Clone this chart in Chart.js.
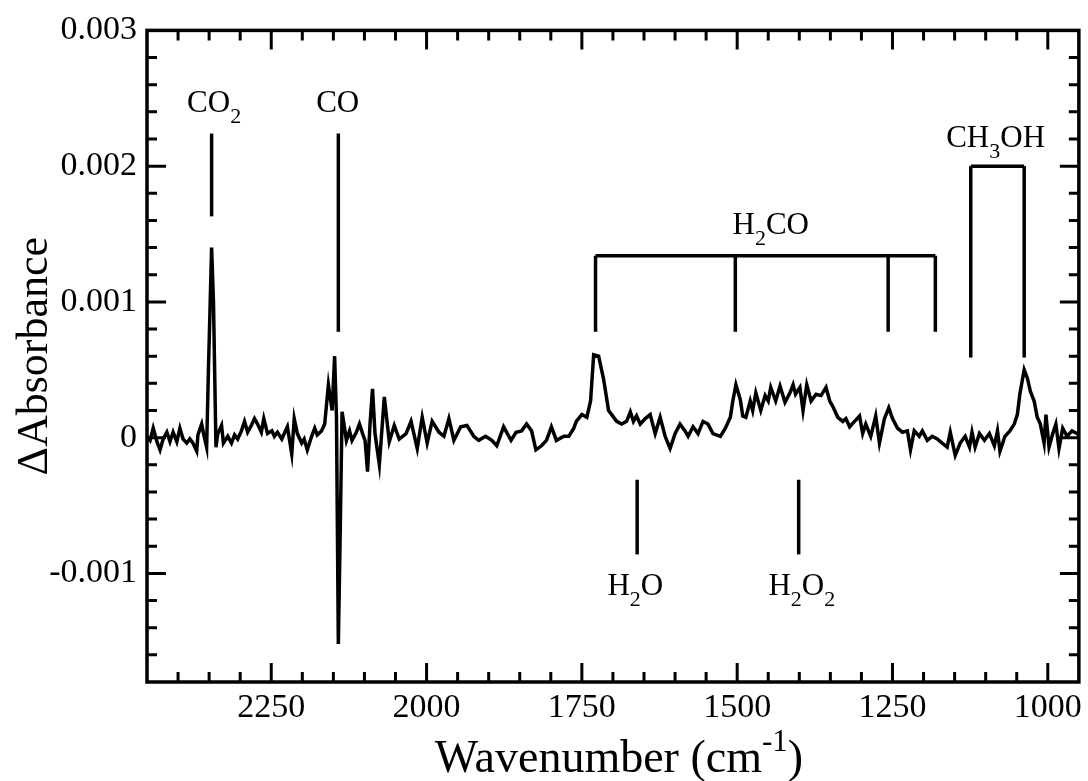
<!DOCTYPE html>
<html>
<head>
<meta charset="utf-8">
<script src="https://cdn.jsdelivr.net/npm/chart.js@4.4.0/dist/chart.umd.min.js"></script>
<style>
  body { margin: 0; background: #fff; }
  canvas { display: block; }
</style>
</head>
<body>
<canvas id="js--chart" width="1088" height="781"></canvas>
<script>
// spectrum (cm-1, delta absorbance)
const wavenumber = [
  2450, 2445, 2440, 2434, 2429, 2424, 2418, 2413, 2408, 2402, 2397, 2392, 2386, 2381, 2376, 2370,
  2368, 2362, 2359, 2354, 2351, 2346, 2343, 2339, 2336, 2330, 2327, 2320, 2314, 2309, 2304, 2298,
  2293, 2288, 2282, 2277, 2272, 2266, 2262, 2256, 2249, 2245, 2240, 2233, 2229, 2224, 2217, 2213,
  2208, 2201, 2197, 2192, 2185, 2180, 2176, 2169, 2164, 2158, 2152, 2148, 2145, 2142, 2139, 2136,
  2129, 2124, 2120, 2113, 2108, 2103, 2099, 2095, 2091, 2087, 2083, 2076, 2068, 2060, 2052, 2044,
  2033, 2025, 2015, 2007, 1999, 1991, 1980, 1972, 1964, 1956, 1945, 1935, 1924, 1916, 1905, 1895,
  1887, 1876, 1864, 1856, 1847, 1839, 1831, 1824, 1815, 1807, 1799, 1791, 1779, 1771, 1763, 1759,
  1750, 1742, 1736, 1731, 1723, 1715, 1707, 1702, 1694, 1686, 1678, 1672, 1667, 1662, 1656, 1648,
  1640, 1632, 1624, 1616, 1608, 1600, 1592, 1584, 1579, 1571, 1563, 1555, 1547, 1539, 1527, 1519,
  1511, 1507, 1502, 1495, 1491, 1486, 1479, 1475, 1470, 1462, 1455, 1450, 1446, 1438, 1431, 1423,
  1415, 1410, 1406, 1399, 1394, 1388, 1381, 1373, 1365, 1357, 1351, 1346, 1338, 1330, 1325, 1319,
  1311, 1303, 1298, 1293, 1285, 1277, 1271, 1263, 1256, 1250, 1242, 1234, 1226, 1221, 1215, 1207,
  1202, 1194, 1186, 1178, 1170, 1162, 1157, 1149, 1141, 1133, 1126, 1122, 1117, 1110, 1102, 1094,
  1086, 1081, 1077, 1069, 1061, 1054, 1049, 1045, 1038, 1033, 1028, 1022, 1017, 1012, 1006, 1003,
  998, 992, 987, 982, 976, 969, 961, 953, 950
];
const absorbance = [
  0.00001, -0.00002, 0.00007, -0.00003, -0.00009, -0.00001, 0.00004, -0.00003, 0.00004, -0.00003, 0.00007, -0.00001, -0.00004, -0.00001, -0.00004, -0.0001,
  0.00002, 0.0001, 0.00003, -0.00007, 0.00052, 0.0014, 0.001, -0.00007, 0.00003, 0.00009, -0.00004, 0.00001, -0.00004, 0.00002, -0.00001, 0.00005,
  0.00012, 0.00004, 0.00009, 0.00014, 0.0001, 0.00004, 0.00014, 0.00003, 0.00005, 0.00001, 0.00004, -0.00001, 0.00003, 0.00008, -0.00012, 0.00014,
  0.00003, -0.00004, -0.00001, -0.00009, 0.00001, 0.00007, 0.00002, 0.00005, 0.0001, 0.00039, 0.0002, 0.0006, 0.00015, -0.00152, -0.0007, 0.00019,
  -0.00002, 0.00005, -0.00002, 0.00004, 0.0001, 0.00003, -0.00002, -0.00025, 0.0001, 0.00036, 0.00003, -0.0002, 0.0003, -0.00003, 0.00009, -0.00001,
  0.00003, 0.00012, -0.00008, 0.00015, -0.00004, 0.00012, 0.00004, 0.00001, 0.00014, -0.00002, 0.00008, 0.00009, 0.00001, -0.00002, 0.00001, -0.00002,
  -0.00006, 0.00008, -0.00002, 0.00004, 0.00005, 0.0001, 0.00005, -0.00009, -0.00006, -0.00002, 0.00008, -0.00002, 0.00001, 0.00001, 0.00007, 0.00012,
  0.00017, 0.00015, 0.00027, 0.00061, 0.0006, 0.00043, 0.0002, 0.00017, 0.00012, 0.0001, 0.00012, 0.00019, 0.00012, 0.00016, 0.0001, 0.00014,
  0.00017, 0.00003, 0.00015, 0.00001, -0.00008, 0.00003, 0.0001, 0.00005, 0.00001, 0.00008, 0.00003, 0.00012, 0.0001, 0.00003, 0.00001, 0.00007,
  0.00015, 0.00027, 0.00039, 0.00028, 0.00016, 0.00015, 0.00027, 0.0002, 0.00033, 0.0002, 0.00031, 0.00027, 0.00037, 0.00027, 0.00038, 0.00026,
  0.00033, 0.00039, 0.00032, 0.00037, 0.0002, 0.00039, 0.00027, 0.00032, 0.00031, 0.00037, 0.00027, 0.00023, 0.00015, 0.00012, 0.00014, 0.00008,
  0.00012, 0.00016, 0.00003, 0.0001, 0.00001, 0.00016, -0.00004, 0.00014, 0.00022, 0.00014, 0.00007, 0.00004, 0.00005, -0.00009, 0.00005, 0.00001,
  0.00005, -0.00002, 0.00001, -0.00001, -0.00004, -0.00007, 0.00004, -0.00013, -0.00004, 0.00001, -0.00007, 0.00004, -0.00007, 0.00003, -0.00002, 0.00003,
  -0.00006, 0.00005, -0.0001, 0.00001, 0.00005, 0.0001, 0.00017, 0.00032, 0.0005, 0.00044, 0.00034, 0.00027, 0.00015, 0.0001, -0.00004, 0.00017,
  -0.00007, 0.00003, 0.0001, -0.00008, 0.00007, 0.00001, 0.00005, 0.00003, 0.00002
];

const xTickLabels = [2250, 2000, 1750, 1500, 1250, 1000];
const yTickLabels = [0.003, 0.002, 0.001, 0, -0.001];

// band markers: [from wavenumber, from absorbance, to wavenumber, to absorbance]
const markerLines = [
  [2346, 0.00224, 2346, 0.00163],
  [2142, 0.00224, 2142, 0.00078],
  [1728, 0.00134, 1181, 0.00134],
  [1728, 0.00134, 1728, 0.00078],
  [1503, 0.00134, 1503, 0.00078],
  [1257, 0.00134, 1257, 0.00078],
  [1181, 0.00134, 1181, 0.00078],
  [1124, 0.002, 1038, 0.002],
  [1124, 0.002, 1124, 0.00059],
  [1038, 0.002, 1038, 0.00059],
  [1661, -0.00031, 1661, -0.00086],
  [1401, -0.00031, 1401, -0.00086]
];
// band names: pieces of text (1 = subscript), centre wavenumber, baseline absorbance
const markerNames = [
  [[["CO", 0], ["2", 1]], 2342, 0.0024],
  [[["CO", 0]], 2143, 0.0024],
  [[["H", 0], ["2", 1], ["CO", 0]], 1446, 0.0015],
  [[["CH", 0], ["3", 1], ["OH", 0]], 1084, 0.00214],
  [[["H", 0], ["2", 1], ["O", 0]], 1664, -0.00116],
  [[["H", 0], ["2", 1], ["O", 0], ["2", 1]], 1396, -0.00116]
];

const serif = '"Liberation Serif", "Times New Roman", serif';

function drawPieces(ctx, parts, cx, base, size, subSize, shift) {
  let total = 0;
  parts.forEach(function (p) {
    ctx.font = (p[1] ? subSize : size) + "px " + serif;
    total += ctx.measureText(p[0]).width;
  });
  let xx = cx - total / 2;
  parts.forEach(function (p) {
    ctx.font = (p[1] ? subSize : size) + "px " + serif;
    ctx.fillText(p[0], xx, base + (p[1] ? shift : 0));
    xx += ctx.measureText(p[0]).width;
  });
}

const frame = {
  id: "frame",
  afterDraw(chart) {
    const ctx = chart.ctx;
    const a = chart.chartArea;
    const x = chart.scales.x;
    const y = chart.scales.y;
    ctx.save();
    ctx.strokeStyle = "#000";
    ctx.fillStyle = "#000";
    ctx.lineCap = "butt";

    // inward ticks on all four sides
    ctx.lineWidth = 3;
    for (let w = 1000; w <= 2400; w += 50) {
      const px = x.getPixelForValue(w);
      const len = w % 250 === 0 ? 19 : 10;
      ctx.beginPath();
      ctx.moveTo(px, a.bottom);
      ctx.lineTo(px, a.bottom - len);
      ctx.moveTo(px, a.top);
      ctx.lineTo(px, a.top + len);
      ctx.stroke();
    }
    for (let i = -8; i <= 14; i++) {
      const py = y.getPixelForValue(i * 0.0002);
      const len = i % 5 === 0 ? 19 : 10;
      ctx.beginPath();
      ctx.moveTo(a.left, py);
      ctx.lineTo(a.left + len, py);
      ctx.moveTo(a.right, py);
      ctx.lineTo(a.right - len, py);
      ctx.stroke();
    }
    ctx.lineWidth = 3.5;
    ctx.strokeRect(a.left, a.top, a.right - a.left, a.bottom - a.top);

    // band markers
    ctx.lineWidth = 3.5;
    markerLines.forEach(function (m) {
      ctx.beginPath();
      ctx.moveTo(x.getPixelForValue(m[0]), y.getPixelForValue(m[1]));
      ctx.lineTo(x.getPixelForValue(m[2]), y.getPixelForValue(m[3]));
      ctx.stroke();
    });
    ctx.textBaseline = "alphabetic";
    ctx.textAlign = "left";
    markerNames.forEach(function (n) {
      drawPieces(ctx, n[0], x.getPixelForValue(n[1]), y.getPixelForValue(n[2]), 31, 22, 11);
    });

    // axis titles
    drawPieces(ctx, [["Wavenumber (cm", 0], ["-1", 1], [")", 0]], (a.left + a.right) / 2 + 6, 772, 46, 31, -21);
    ctx.translate(47, (a.top + a.bottom) / 2);
    ctx.rotate(-Math.PI / 2);
    ctx.textAlign = "center";
    ctx.font = "44px " + serif;
    ctx.fillText("\u0394Absorbance", 0, 0);
    ctx.restore();
  }
};

const spectrum = wavenumber.map(function (w, i) {
  return { x: w, y: absorbance[i] };
});

new Chart(document.getElementById("js--chart"), {
  type: "line",
  data: {
    datasets: [
      {
        data: spectrum,
        borderColor: "#000",
        borderWidth: 3.5,
        pointRadius: 0,
        tension: 0,
        fill: false
      }
    ]
  },
  options: {
    responsive: false,
    animation: false,
    layout: { padding: { top: 21, right: 6, left: 0, bottom: 0 } },
    plugins: { legend: { display: false }, tooltip: { enabled: false } },
    scales: {
      x: {
        type: "linear",
        reverse: true,
        min: 950,
        max: 2450,
        grid: { display: false, drawTicks: false },
        border: { display: false },
        afterBuildTicks: function (s) {
          s.ticks = xTickLabels.map(function (v) { return { value: v }; });
        },
        afterFit: function (s) { s.height = 99; },
        ticks: {
          font: { family: serif, size: 34 },
          color: "#000",
          padding: 6,
          maxRotation: 0,
          autoSkip: false,
          callback: function (v) { return String(v); }
        }
      },
      y: {
        type: "linear",
        min: -0.0018,
        max: 0.003,
        grid: { display: false, drawTicks: false },
        border: { display: false },
        afterBuildTicks: function (s) {
          s.ticks = yTickLabels.map(function (v) { return { value: v }; });
        },
        afterFit: function (s) { s.width = 147; },
        ticks: {
          font: { family: serif, size: 34 },
          color: "#000",
          padding: 10,
          autoSkip: false,
          callback: function (v) { return String(v); }
        }
      }
    }
  },
  plugins: [frame]
});
</script>
</body>
</html>
